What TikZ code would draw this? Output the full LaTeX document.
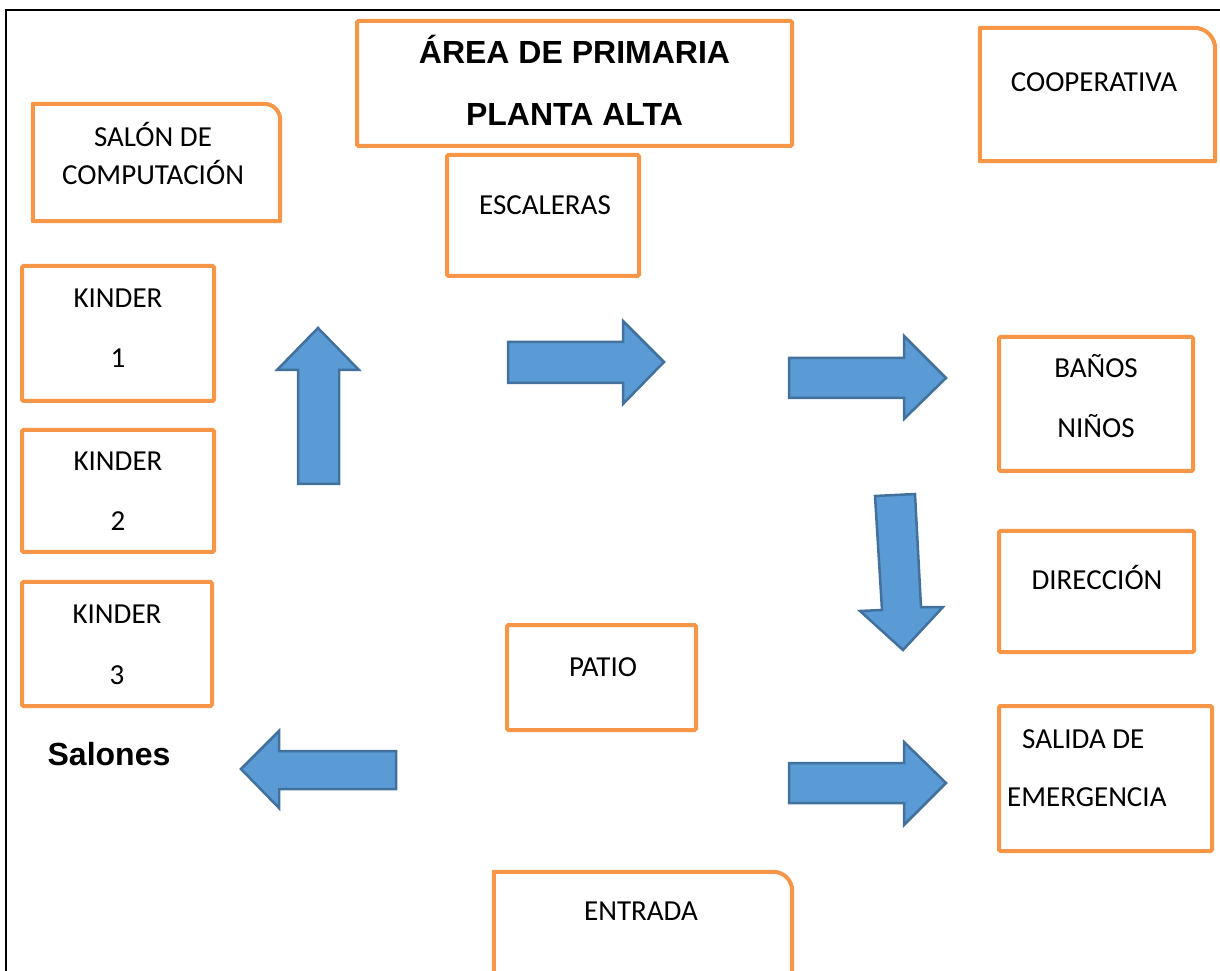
\documentclass[tikz,border=0pt]{standalone}
\usepackage{fontspec}
\setmainfont{Carlito}
\newfontfamily\arialfont{Liberation Sans}
\definecolor{boxorange}{HTML}{F79646}
\definecolor{arrowfill}{HTML}{5B9BD5}
\definecolor{arrowline}{HTML}{41719C}
\begin{document}
\begin{tikzpicture}[x=1pt,y=1pt,
  room/.style={draw=boxorange,line width=4pt,rounded corners=1.5pt,inner sep=0pt},
  roomshape/.style={draw=none,inner sep=0pt},
  roomline/.style={draw=boxorange,line width=4pt,line join=round},
  lbl/.style={anchor=base,inner sep=0pt,font=\fontsize{29}{35}\selectfont},
  bold/.style={anchor=base,inner sep=0pt,font=\arialfont\bfseries\fontsize{32}{38}\selectfont},
  bigarrow/.style={fill=arrowfill,draw=arrowline,line width=2.5pt,line join=miter}]
\useasboundingbox (0,0) rectangle (1220,970);
\clip (0,0) rectangle (1220,970);
% page border (left and top)
\draw[line width=2pt] (6,-5) -- (6,960) -- (1225,960);

% boxes with square corners
\node[room,minimum width=435pt,minimum height=125pt] (title) at (574.5,886.5) {};
\node[room,minimum width=192pt,minimum height=121pt] (esc) at (543,754.5) {};
\node[room,minimum width=192pt,minimum height=135pt] (k1) at (118,636.5) {};
\node[room,minimum width=192pt,minimum height=122pt] (k2) at (118,479) {};
\node[room,minimum width=190pt,minimum height=124pt] (k3) at (117,326) {};
\node[room,minimum width=194pt,minimum height=134pt] (banos) at (1096,566) {};
\node[room,minimum width=195pt,minimum height=121pt] (dir) at (1096.5,378.5) {};
\node[room,minimum width=213pt,minimum height=145pt] (salida) at (1105.5,191.5) {};
\node[room,minimum width=189pt,minimum height=105pt] (patio) at (601.5,292.5) {};

% boxes with one rounded corner (top right)
\node[roomshape,minimum width=247pt,minimum height=117pt] (salon) at (156.5,807.5) {};
\draw[roomline] (salon.south west) -- (salon.north west) -- ([xshift=-16pt]salon.north east)
  arc[start angle=90,end angle=0,radius=16pt] -- (salon.south east) -- cycle;
\node[roomshape,minimum width=235pt,minimum height=133pt] (coop) at (1097.5,875.5) {};
\draw[roomline] (coop.south west) -- (coop.north west) -- ([xshift=-21pt]coop.north east)
  arc[start angle=90,end angle=0,radius=21pt] -- (coop.south east) -- cycle;
\node[roomshape,minimum width=298pt,minimum height=108pt] (entrada) at (643,44) {};
\draw[roomline] (entrada.south west) -- (entrada.north west) -- ([xshift=-19pt]entrada.north east)
  arc[start angle=90,end angle=0,radius=19pt] -- (entrada.south east) -- cycle;

% texts
\node[bold] (t1) at (574.5,906.5) {ÁREA DE PRIMARIA};
\node[bold] (t2) at (574.5,844.5) {PLANTA ALTA};
\node[lbl] (salon1) at (153,823) {SALÓN DE};
\node[lbl] (salon2) at (153,785) {COMPUTACIÓN};
\node[lbl] (coopt) at (1094,878) {COOPERATIVA};
\node[lbl] (esct) at (545,755) {ESCALERAS};
\node[lbl] (k1a) at (118,662) {KINDER};
\node[lbl] (k1b) at (118,602) {1};
\node[lbl] (k2a) at (118,499) {KINDER};
\node[lbl] (k2b) at (118,439) {2};
\node[lbl] (k3a) at (117,347) {KINDER};
\node[lbl] (k3b) at (117,286) {3};
\node[lbl] (banos1) at (1096,592) {BAÑOS};
\node[lbl] (banos2) at (1096,532) {NIÑOS};
\node[lbl] (dirt) at (1097,381) {DIRECCIÓN};
\node[lbl,anchor=base west] (sal1) at (1022,222) {SALIDA DE};
\node[lbl,anchor=base west] (sal2) at (1007,164) {EMERGENCIA};
\node[lbl] (patiot) at (603,294) {PATIO};
\node[lbl] (entt) at (641,50) {ENTRADA};
\node[bold] (salones) at (109,205) {Salones};

% block arrows
% up
\draw[bigarrow] (298,486) -- (298,600) -- (277,600) -- (318,642) -- (359,600) -- (339,600) -- (339,486) -- cycle;
% right 1
\draw[bigarrow] (508,628) -- (623,628) -- (623,649) -- (664,608) -- (623,566) -- (623,587) -- (508,587) -- cycle;
% right 2
\draw[bigarrow] (789,612) -- (904,612) -- (904,634) -- (946,592) -- (904,551) -- (904,572) -- (789,572) -- cycle;
% right 3
\draw[bigarrow] (789,207) -- (904,207) -- (904,228) -- (946,187) -- (904,145) -- (904,167) -- (789,167) -- cycle;
% left
\draw[bigarrow] (396,219) -- (279,219) -- (279,239) -- (241,201) -- (279,162) -- (279,181) -- (396,181) -- cycle;
% down (slightly tilted)
\draw[bigarrow] (875,474) -- (915,476) -- (921,363) -- (943,363) -- (903,320) -- (860,359) -- (882,360) -- cycle;
\end{tikzpicture}
\end{document}
